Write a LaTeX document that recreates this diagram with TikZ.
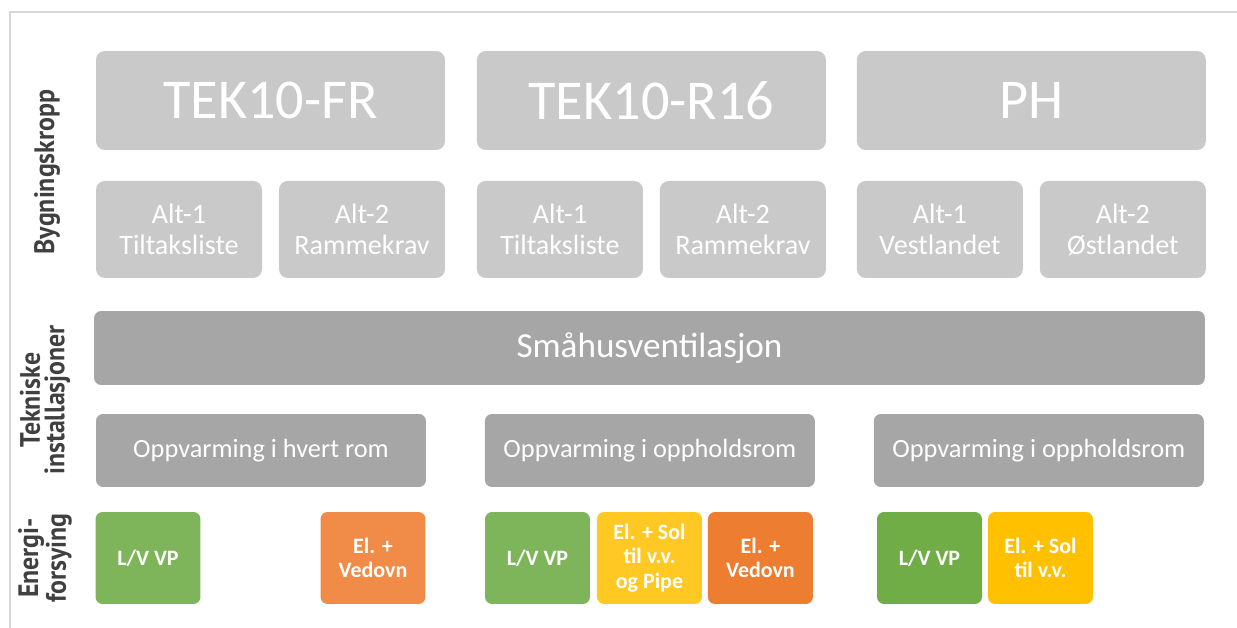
\documentclass[tikz,border=0pt]{standalone}
\usepackage{fontspec}
\setmainfont{Carlito}
\newfontfamily\sidefont[FakeStretch=0.92]{PT Sans}
\definecolor{boxlight}{RGB}{201,201,201}
\definecolor{boxdark}{RGB}{166,166,166}
\definecolor{vpgreen}{RGB}{127,181,90}
\definecolor{vpgreendk}{RGB}{112,173,71}
\definecolor{vedorange}{RGB}{240,140,71}
\definecolor{vedorangedk}{RGB}{237,125,49}
\definecolor{solyellow}{RGB}{255,200,34}
\definecolor{solyellowdk}{RGB}{255,192,0}
\definecolor{sidegray}{RGB}{64,64,64}
\definecolor{framegray}{RGB}{215,215,215}
\usetikzlibrary{positioning}

\begin{document}
\begin{tikzpicture}[x=0.02cm, y=-0.02cm,
    head/.style={fill=boxlight, rounded corners=5pt, minimum width=6.98cm, outer sep=0pt,
                 minimum height=1.98cm, text=white, font=\fontsize{32}{36}\selectfont},
    alt/.style={fill=boxlight, rounded corners=5pt, minimum width=3.32cm, outer sep=0pt,
                minimum height=1.94cm, text=white, align=center,
                font=\fontsize{16}{17.6}\selectfont},
    tek/.style={fill=boxdark, rounded corners=4pt, minimum width=6.6cm, outer sep=0pt,
                minimum height=1.46cm, text=white, font=\fontsize{15}{18}\selectfont},
    energy/.style={rounded corners=4pt, minimum width=2.1cm, minimum height=1.84cm,
                   outer sep=0pt, text=white, align=center,
                   font=\fontsize{12.5}{14}\selectfont\bfseries},
    side/.style={rotate=90, text=sidegray, align=center,
                 font=\sidefont\bfseries\fontsize{16}{14}\selectfont}
  ]
    \useasboundingbox (0,0) rectangle (1237,628);
    \draw[framegray, line width=1pt] (10,628) -- (10,12) -- (1237,12);

    % Bygningskropp
    \node[head] (fr) at (270.5,100.5) {TEK10-FR};
    \node[head, right=0.64cm of fr]  (r16) {TEK10-R16};
    \node[head, right=0.62cm of r16] (ph)  {PH};
    \foreach \h/\a/\b in {fr/Tiltaksliste/Rammekrav, r16/Tiltaksliste/Rammekrav,
                          ph/Vestlandet/Østlandet} {
      \node[alt, below=0.62cm of \h.south west, anchor=north west] (\h1) {Alt-1\\\a};
      \node[alt, right=0.34cm of \h1] (\h2) {Alt-2\\\b};
    }

    % Tekniske installasjoner
    \node[tek, minimum width=22.22cm, minimum height=1.48cm,
          font=\fontsize{20}{24}\selectfont] (vent) at (649.5,348) {Småhusventilasjon};
    \node[tek] (oppfr) at (261,450.5) {Oppvarming i hvert rom};
    \node[tek, right=1.18cm of oppfr]  (oppr16) {Oppvarming i oppholdsrom};
    \node[tek, right=1.18cm of oppr16] (oppph)  {Oppvarming i oppholdsrom};

    % Energiforsyning
    \node[energy, fill=vpgreen]   (vpfr)  at (148,558) {L/V VP};
    \node[energy, fill=vedorange] (vedfr) at (373,558) {El. +\\Vedovn};
    \node[energy, fill=vpgreen]   (vpr16) at (537.5,558) {L/V VP};
    \node[energy, fill=solyellow, right=0.14cm of vpr16] (solr16) {El. + Sol\\til v.v.\\og Pipe};
    \node[energy, fill=vedorangedk, right=0.12cm of solr16] (vedr16) {El. +\\Vedovn};
    \node[energy, fill=vpgreendk] (vpph) at (929.5,558) {L/V VP};
    \node[energy, fill=solyellowdk, right=0.12cm of vpph] (solph) {El. + Sol\\til v.v.};

    % Labels on the left
    \node[side] (lbyg) at (47,172) {Bygningskropp};
    \node[side] (ltek) at (45,400) {Tekniske\\installasjoner};
    \node[side] (lene) at (45,558) {Energi-\\forsying};
  \end{tikzpicture}
\end{document}
